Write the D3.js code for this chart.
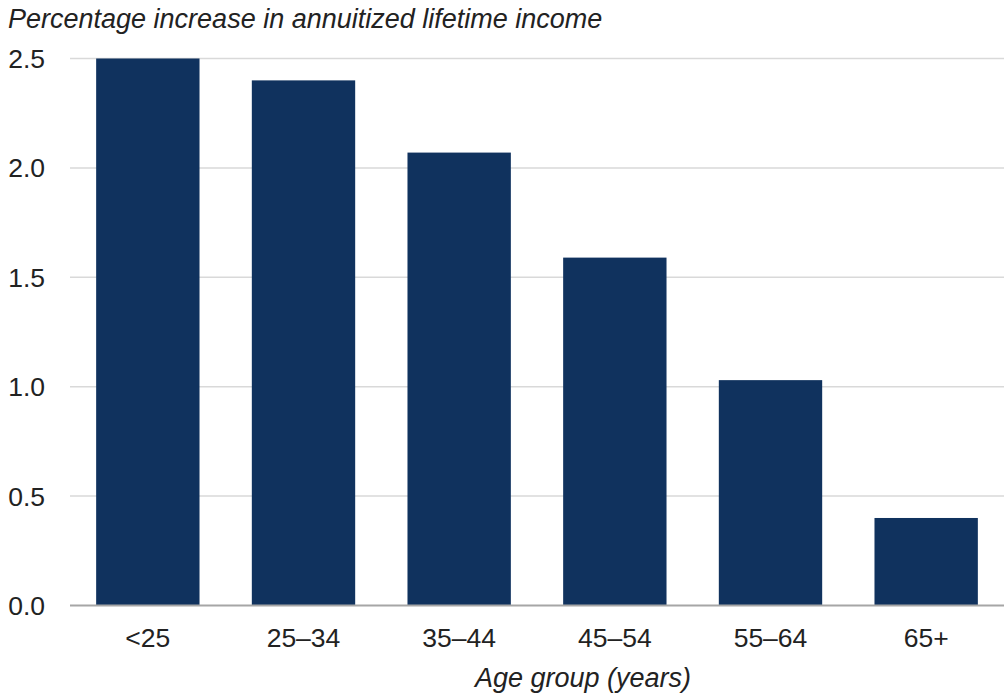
<!DOCTYPE html>
<html>
<head>
<meta charset="utf-8">
<script src="https://cdn.jsdelivr.net/npm/d3@7"></script>
<style>
  body { margin: 0; background: #fff; }
  svg { display: block; font-family: "Liberation Sans", Arial, sans-serif; }
</style>
</head>
<body>
<svg id="chart" width="1006" height="698"></svg>
<script>
// data
const AGE_GROUPS = ['<25', '25–34', '35–44', '45–54', '55–64', '65+'];
const INCOME_GAIN = [2.5, 2.40, 2.07, 1.59, 1.03, 0.40];
const Y_TICKS = [0, 0.5, 1.0, 1.5, 2.0, 2.5];

const svg = d3.select('#chart');
const margin = { left: 70, right: 2, top: 58.5, bottom: 92.5 };
const width = 1006, height = 698;

const x = d3.scaleBand()
  .domain(AGE_GROUPS)
  .range([margin.left, width - margin.right])
  .paddingInner(0.336)
  .paddingOuter(0.168);

const y = d3.scaleLinear()
  .domain([0, 2.5])
  .range([height - margin.bottom, margin.top]);

// gridlines
svg.append('g')
  .selectAll('line')
  .data(Y_TICKS.filter(d => d > 0))
  .enter().append('line')
    .attr('x1', margin.left)
    .attr('x2', width - margin.right)
    .attr('y1', d => y(d))
    .attr('y2', d => y(d))
    .style('stroke', '#d9d9d9')
    .style('stroke-width', 1.5);

// y tick labels
svg.append('g')
  .selectAll('text')
  .data(Y_TICKS)
  .enter().append('text')
    .attr('x', 45)
    .attr('y', d => y(d) + 9.5)
    .attr('text-anchor', 'end')
    .style('font-size', '26.5px')
    .style('fill', '#222')
    .text(d => d3.format('.1f')(d));

// bars
svg.append('g')
  .selectAll('rect')
  .data(AGE_GROUPS)
  .enter().append('rect')
    .attr('x', d => x(d))
    .attr('width', x.bandwidth())
    .attr('y', (d, i) => y(INCOME_GAIN[i]))
    .attr('height', (d, i) => y(0) - y(INCOME_GAIN[i]))
    .style('fill', '#10325e');

// baseline
svg.append('line')
  .attr('x1', margin.left)
  .attr('x2', width - margin.right)
  .attr('y1', y(0))
  .attr('y2', y(0))
  .style('stroke', '#a6a6a6')
  .style('stroke-width', 2);

// x tick labels
svg.append('g')
  .selectAll('text')
  .data(AGE_GROUPS)
  .enter().append('text')
    .attr('x', d => x(d) + x.bandwidth() / 2)
    .attr('y', 647)
    .attr('text-anchor', 'middle')
    .style('font-size', '26.5px')
    .style('fill', '#222')
    .text(d => d);

// titles
svg.append('text')
  .attr('x', 8)
  .attr('y', 28)
  .style('font-size', '27px')
  .style('font-style', 'italic')
  .style('fill', '#222')
  .text('Percentage increase in annuitized lifetime income');

svg.append('text')
  .attr('x', 583)
  .attr('y', 687)
  .attr('text-anchor', 'middle')
  .style('font-size', '27px')
  .style('font-style', 'italic')
  .style('fill', '#222')
  .text('Age group (years)');
</script>
</body>
</html>
